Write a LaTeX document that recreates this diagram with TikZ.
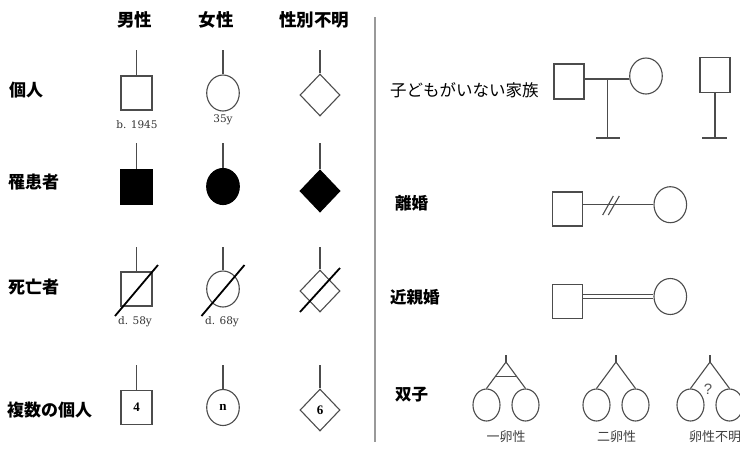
\documentclass[tikz,border=0pt]{standalone}
\usepackage{fontspec}
\setmainfont{Liberation Serif}
\newfontfamily\jp{Noto Sans CJK JP}
\newfontfamily\smallserif{DejaVu Serif}
\newfontfamily\qfont{Liberation Sans}
\usetikzlibrary{shapes.geometric}
\begin{document}
\begin{tikzpicture}[x=1pt,y=-1pt,
  lc/.style={draw=black!70, line width=1.1pt},
  male/.style={lc, rectangle, minimum width=31pt, minimum height=34pt, inner sep=0pt},
  female/.style={lc, ellipse, minimum width=32.6pt, minimum height=36pt, inner sep=0pt},
  unk/.style={lc, diamond, minimum width=40pt, minimum height=42pt, inner sep=0pt},
  twinc/.style={lc, ellipse, minimum width=27pt, minimum height=32pt, inner sep=0pt},
  affected/.style={fill=black, draw=black},
  stemline/.style={draw=black!70, line width=1.1pt},
  deadline/.style={draw=black, line width=1.8pt},
  head/.style={font=\jp\bfseries\fontsize{17.5}{18}\selectfont, inner sep=0pt},
  rowlabel/.style={font=\jp\bfseries\fontsize{17}{18}\selectfont, inner sep=0pt, anchor=west},
  rlabel/.style={font=\jp\fontsize{16.5}{18}\selectfont, inner sep=0pt, anchor=west},
  rlabelb/.style={rlabel, font=\jp\bfseries\fontsize{16.5}{18}\selectfont},
  note/.style={font=\smallserif\fontsize{10.5}{11}\selectfont, text=black!80, inner sep=0pt},
  num/.style={font=\bfseries\fontsize{13}{13}\selectfont},
  twinlabel/.style={font=\jp\fontsize{13}{13}\selectfont, text=black!75, inner sep=0pt},
  divider/.style={draw=black!40, line width=2pt}
]
\fill[white] (0,0) rectangle (740,448);
\useasboundingbox (0,0) rectangle (740,448);

% headers
\node[head] (hm) at (134.5,20) {男性};
\node[head] (hf) at (216,20) {女性};
\node[head] (hu) at (314,20) {性別不明};

% row labels
\node[rowlabel] (l1) at (9,90) {個人};
\node[rowlabel] (l2) at (8,182) {罹患者};
\node[rowlabel] (l3) at (8,287) {死亡者};
\node[rowlabel] (l4) at (7,410) {複数の個人};

% row 1
\node[male] (m1) at (136.5,93) {};
\node[female] (f1) at (223,93) {};
\node[unk] (u1) at (320,95) {};
\coordinate (m1t) at (136.5,50);
\coordinate (f1t) at (223,50);
\coordinate (u1t) at (320,50);
\draw[stemline] (m1t) -- (m1.north);
\draw[stemline] (f1t) -- (f1.north);
\draw[stemline] (u1t) -- (u1.north);
\node[note] (n1) at (137,125) {b. 1945};
\node[note] (n2) at (223,120) {35y};

% row 2
\node[male, affected] (m2) at (136.5,187) {};
\node[female, affected] (f2) at (223,186.5) {};
\node[unk, affected] (u2) at (320,191) {};
\coordinate (m2t) at (136.5,143);
\coordinate (f2t) at (223,143);
\coordinate (u2t) at (320,143);
\draw[stemline] (m2t) -- (m2.north);
\draw[stemline] (f2t) -- (f2.north);
\draw[stemline] (u2t) -- (u2.north);

% row 3
\node[male] (m3) at (136.5,289) {};
\node[female] (f3) at (223,289) {};
\node[unk] (u3) at (320,291) {};
\coordinate (m3t) at (136.5,247);
\coordinate (f3t) at (223,247);
\coordinate (u3t) at (320,247);
\draw[stemline] (m3t) -- (m3.north);
\draw[stemline] (f3t) -- (f3.north);
\draw[stemline] (u3t) -- (u3.north);
\draw[deadline] ([shift={(-21.5,27)}]m3.center) -- ([shift={(21.5,-24)}]m3.center);
\draw[deadline] ([shift={(-21.5,27)}]f3.center) -- ([shift={(21.5,-24)}]f3.center);
\draw[deadline] ([shift={(-20,21)}]u3.center) -- ([shift={(20,-23)}]u3.center);
\node[note] (n3) at (135,322) {d. 58y};
\node[note] (n4) at (222,322) {d. 68y};

% row 4
\node[male, num] (m4) at (136.5,407.5) {4};
\node[female, num] (f4) at (223,407.5) {n};
\node[unk, num] (u4) at (320,410) {6};
\coordinate (m4t) at (136.5,365);
\coordinate (f4t) at (223,365);
\coordinate (u4t) at (320,365);
\draw[stemline] (m4t) -- (m4.north);
\draw[stemline] (f4t) -- (f4.north);
\draw[stemline] (u4t) -- (u4.north);

% divider
\coordinate (dv1) at (375,17);
\coordinate (dv2) at (375,442);
\draw[divider] (dv1) -- (dv2);

% right side labels
\node[rlabel] (r1) at (390,90) {子どもがいない家族};
\node[rlabelb] (r2) at (395,203) {離婚};
\node[rlabelb] (r3) at (390,297) {近親婚};
\node[rlabelb] (r4) at (395,395) {双子};

% childless family
\node[male, minimum width=30pt, minimum height=35pt] (cm) at (569,81.5) {};
\node[female] (cf) at (646,76) {};
\coordinate (cj) at (607.7,79);
\coordinate (cb) at (607.7,138);
\coordinate (cbl) at (596,138);
\coordinate (cbr) at (620,138);
\draw[stemline] (cm.east |- cj) -- (cf.west |- cj);
\draw[stemline] (cj) -- (cb);
\draw[stemline] (cbl) -- (cbr);
\node[male, minimum width=30pt, minimum height=35pt] (sm) at (715,75.3) {};
\coordinate (sb) at (715,138);
\coordinate (sbl) at (702,138);
\coordinate (sbr) at (727,138);
\draw[stemline] (sm.south) -- (sb);
\draw[stemline] (sbl) -- (sbr);

% divorce
\node[male, minimum width=30pt] (dm) at (567.3,209) {};
\node[female] (df) at (670.3,204.7) {};
\draw[stemline] (dm.east |- df.west) -- (df.west);
\coordinate (ds1a) at (602.7,215);
\coordinate (ds1b) at (613.3,196);
\coordinate (ds2a) at (608.3,215);
\coordinate (ds2b) at (619.3,196);
\draw[stemline] (ds1a) -- (ds1b);
\draw[stemline] (ds2a) -- (ds2b);

% consanguineous
\node[male, minimum width=30pt] (km) at (567.3,301.5) {};
\node[female] (kf) at (670.3,296.5) {};
\draw[stemline] ([yshift=-2.3pt]km.east |- kf.west) -- ([yshift=-2.3pt]kf.west);
\draw[stemline] ([yshift=2.3pt]km.east |- kf.west) -- ([yshift=2.3pt]kf.west);

% twins
\foreach \id/\ax in {a/506, b/616, c/710}{
  \coordinate (t\id top) at (\ax,355);
  \coordinate (t\id apex) at (\ax,362);
  \node[twinc] (t\id L) at (\ax-19.5,405) {};
  \node[twinc] (t\id R) at (\ax+19.5,405) {};
  \draw[stemline] (t\id top) -- (t\id apex);
  \draw[stemline] (t\id apex) -- (t\id L.north);
  \draw[stemline] (t\id apex) -- (t\id R.north);
}
\coordinate (tbarL) at (495.4,376.7);
\coordinate (tbarR) at (516.6,376.7);
\draw[stemline] (tbarL) -- (tbarR);
\node[font=\qfont\fontsize{15}{15}\selectfont, text=black!65, inner sep=0pt] (tq) at (708,389) {?};

\node[twinlabel] (tla) at (506,437) {一卵性};
\node[twinlabel, anchor=west] (tlb) at (597,437) {二卵性};
\node[twinlabel, anchor=west] (tlc) at (689,437) {卵性不明};
\end{tikzpicture}
\end{document}
